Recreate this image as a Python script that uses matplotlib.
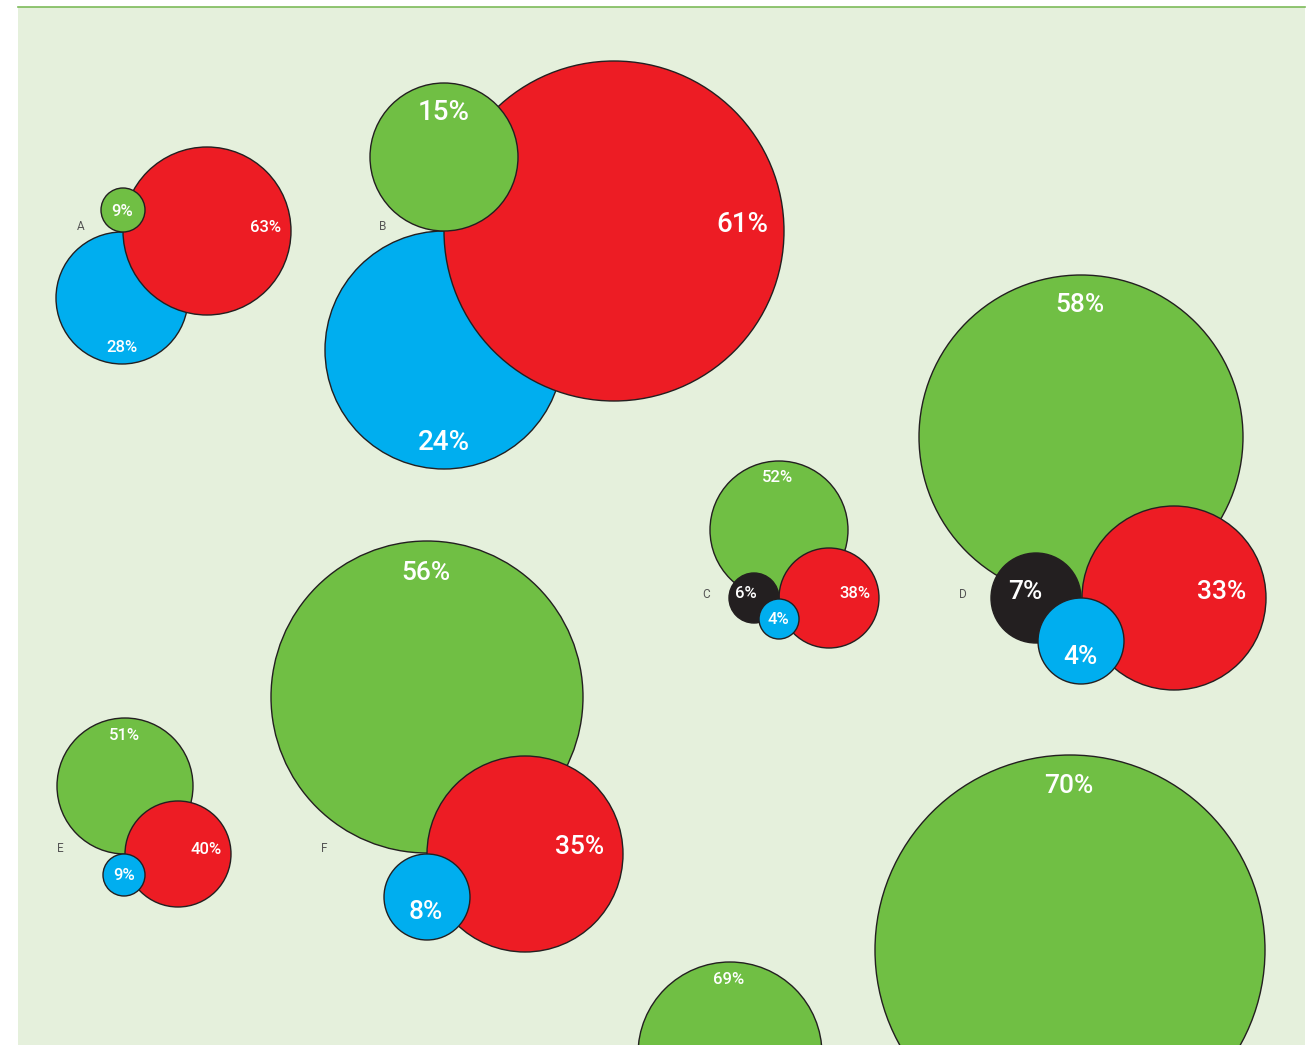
import matplotlib.pyplot as plt
from matplotlib.patches import Circle, Rectangle

# %%
GREEN = '#70bf44'
RED = '#ed1c24'
BLUE = '#00aeef'
BLACK = '#231f20'

# group letters and where they sit
groups = ['A', 'B', 'C', 'D', 'E', 'F']
group_x = [81, 383, 706, 963, 60, 324]
group_y = [227, 227, 594, 594, 849, 849]

# one entry per circle, drawn back to front
pct = ['28%', '63%', '9%',
       '24%', '61%', '15%',
       '52%', '38%', '6%', '4%',
       '58%', '33%', '7%', '4%',
       '51%', '40%', '9%',
       '56%', '35%', '8%',
       '69%', '70%']
colors = [BLUE, RED, GREEN,
          BLUE, RED, GREEN,
          GREEN, RED, BLACK, BLUE,
          GREEN, RED, BLACK, BLUE,
          GREEN, RED, BLUE,
          GREEN, RED, BLUE,
          GREEN, GREEN]
cx = [122, 207, 123,
      444, 614, 444,
      779, 829, 754, 779,
      1081, 1174, 1036, 1081,
      125, 178, 124,
      427, 525, 427,
      730, 1070]
cy = [298, 231, 210,
      350, 231, 157,
      530, 598, 598, 619,
      437, 598, 598, 641,
      786, 854, 875,
      697, 854, 897,
      1054, 950]
rad = [66, 84, 22,
       119, 170, 74,
       69, 50, 25, 20,
       162, 92, 45, 43,
       68, 53, 21,
       156, 98, 43,
       92, 195]
tx = [122, 266, 122,
      444, 742, 444,
      778, 855, 746, 778,
      1080, 1222, 1025, 1080,
      124, 206, 124,
      426, 580, 426,
      729, 1069]
ty = [348, 228, 211,
      442, 224, 113,
      478, 594, 594, 620,
      305, 592, 592, 657,
      736, 849, 876,
      573, 847, 912,
      980, 786]
tsize = [12, 12, 12,
         20, 20, 20,
         12, 12, 12, 12,
         19, 19, 19, 19,
         12, 12, 12,
         19, 19, 19,
         12, 19]

# %%
W, H = 1315, 1045
fig = plt.figure(figsize=(W / 100, H / 100), dpi=100)
ax = fig.add_axes([0, 0, 1, 1])
ax.set_xlim(0, W)
ax.set_ylim(H, 0)
ax.axis('off')

ax.add_patch(Rectangle((18, 7), 1287, H, facecolor='#e5f0dc', edgecolor='none', zorder=0))
ax.plot([18, 1305], [7, 7], color='#7dbb5a', lw=1.2, zorder=1)

for i in range(len(pct)):
    ax.add_patch(Circle((cx[i], cy[i]), rad[i], facecolor=colors[i],
                        edgecolor=BLACK, lw=1.0, zorder=2 + i))
    ax.text(tx[i], ty[i], pct[i], color='white', fontsize=tsize[i],
            family='Roboto', fontweight='medium',
            ha='center', va='center', zorder=2 + i)

for g, x, y in zip(groups, group_x, group_y):
    ax.text(x, y, g, color='#555555', fontsize=8.5, family='Roboto',
            ha='center', va='center')

fig.savefig('out.png', dpi=100)
